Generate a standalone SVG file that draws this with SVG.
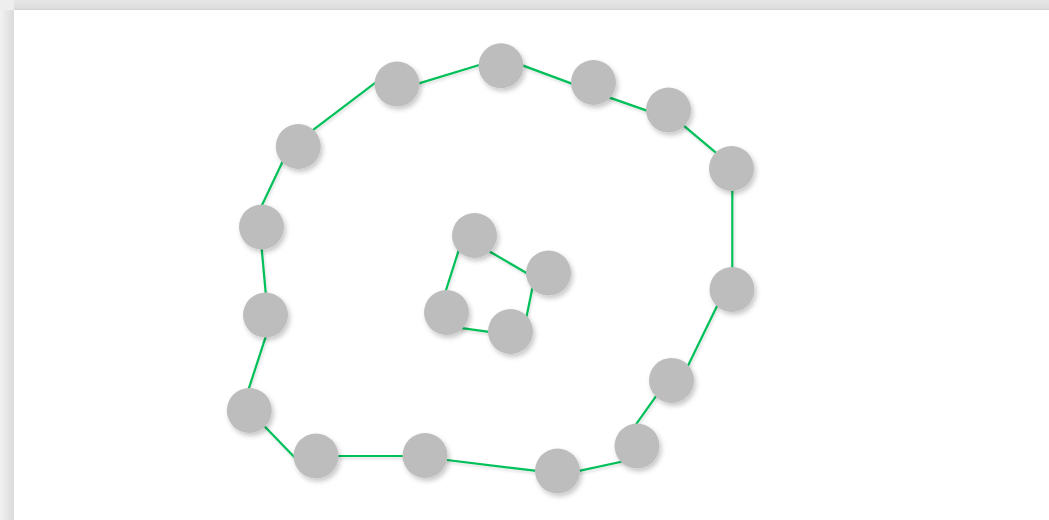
<svg xmlns="http://www.w3.org/2000/svg" width="1049" height="520" viewBox="0 0 1049 520">
<defs>
<linearGradient id="lg" x1="0" y1="0" x2="1" y2="0">
<stop offset="0" stop-color="#f2f2f2"/><stop offset="1" stop-color="#dadada"/>
</linearGradient>
<linearGradient id="tg" x1="0" y1="0" x2="0" y2="1">
<stop offset="0" stop-color="#e6e6e6"/><stop offset="0.8" stop-color="#dedede"/><stop offset="1" stop-color="#d2d2d2"/>
</linearGradient>
<filter id="sh" x="-50%" y="-50%" width="200%" height="200%">
<feDropShadow dx="2" dy="3" stdDeviation="2.5" flood-color="#000" flood-opacity="0.22"/>
</filter>
<filter id="lsh" x="-20%" y="-20%" width="140%" height="140%">
<feDropShadow dx="1" dy="2" stdDeviation="1.5" flood-color="#000" flood-opacity="0.15"/>
</filter>
</defs>
<style>
.e{stroke:#00c05a;stroke-width:2.2;fill:none}
.n{fill:#bdbdbd;filter:url(#sh)}
</style>
<rect width="1049" height="520" fill="#ffffff"/>
<rect x="0" y="0" width="14" height="520" fill="url(#lg)"/>
<rect x="0" y="0" width="1049" height="10" fill="url(#tg)"/>
<rect x="0" y="0" width="14" height="10" fill="#eeeeee"/>
<g id="connectors" filter="url(#lsh)">
<line class="e" x1="306.6" y1="134.8" x2="381.4" y2="78.2"/>
<line class="e" x1="411.6" y1="85.6" x2="486.7" y2="62.7"/>
<line class="e" x1="515.8" y1="62.9" x2="578.5" y2="86.1"/>
<line class="e" x1="602.5" y1="95.1" x2="654" y2="113.1"/>
<line class="e" x1="678.9" y1="121.6" x2="722.1" y2="157.8"/>
<line class="e" x1="732.3" y1="183" x2="732.3" y2="275"/>
<line class="e" x1="720.2" y1="299.5" x2="684.8" y2="372.2"/>
<line class="e" x1="660.3" y1="390.2" x2="632.1" y2="429.8"/>
<line class="e" x1="629.5" y1="460" x2="572.2" y2="472.4"/>
<line class="e" x1="542.9" y1="471.7" x2="438.8" y2="459"/>
<line class="e" x1="331" y1="456" x2="410.7" y2="456"/>
<line class="e" x1="299.6" y1="462.5" x2="259.4" y2="421"/>
<line class="e" x1="246.5" y1="395.6" x2="268.2" y2="329.1"/>
<line class="e" x1="266.4" y1="300.7" x2="261" y2="241"/>
<line class="e" x1="258.6" y1="212.2" x2="285.4" y2="155.8"/>
<line class="e" x1="483.1" y1="247.7" x2="532.9" y2="276.7"/>
<line class="e" x1="533.9" y1="280.5" x2="525.1" y2="323.8"/>
<line class="e" x1="496.2" y1="332.8" x2="454.8" y2="327.2"/>
<line class="e" x1="443.6" y1="297.6" x2="460.7" y2="244.1"/>
</g>
<g id="n1"><circle class="n" cx="397" cy="84" r="22.5"/></g>
<g id="n2"><circle class="n" cx="501" cy="65.8" r="22.5"/></g>
<g id="n3"><circle class="n" cx="593.5" cy="82.5" r="22.5"/></g>
<g id="n4"><circle class="n" cx="668.5" cy="110" r="22.5"/></g>
<g id="n5"><circle class="n" cx="731.5" cy="168.5" r="22.5"/></g>
<g id="n6"><circle class="n" cx="732" cy="289.5" r="22.5"/></g>
<g id="n7"><circle class="n" cx="671.5" cy="380.4" r="22.5"/></g>
<g id="n8"><circle class="n" cx="637" cy="446" r="22.5"/></g>
<g id="n9"><circle class="n" cx="557.5" cy="471" r="22.5"/></g>
<g id="n10"><circle class="n" cx="425" cy="455.5" r="22.5"/></g>
<g id="n11"><circle class="n" cx="316" cy="456" r="22.5"/></g>
<g id="n12"><circle class="n" cx="249.3" cy="410.5" r="22.5"/></g>
<g id="n13"><circle class="n" cx="265.5" cy="315" r="22.5"/></g>
<g id="n14"><circle class="n" cx="261.5" cy="227" r="22.5"/></g>
<g id="n15"><circle class="n" cx="298.3" cy="146.5" r="22.5"/></g>
<g id="n16"><circle class="n" cx="474.5" cy="235.5" r="22.5"/></g>
<g id="n17"><circle class="n" cx="548.5" cy="273" r="22.5"/></g>
<g id="n18"><circle class="n" cx="510.5" cy="331.5" r="22.5"/></g>
<g id="n19"><circle class="n" cx="446.5" cy="312.5" r="22.5"/></g>
</svg>
